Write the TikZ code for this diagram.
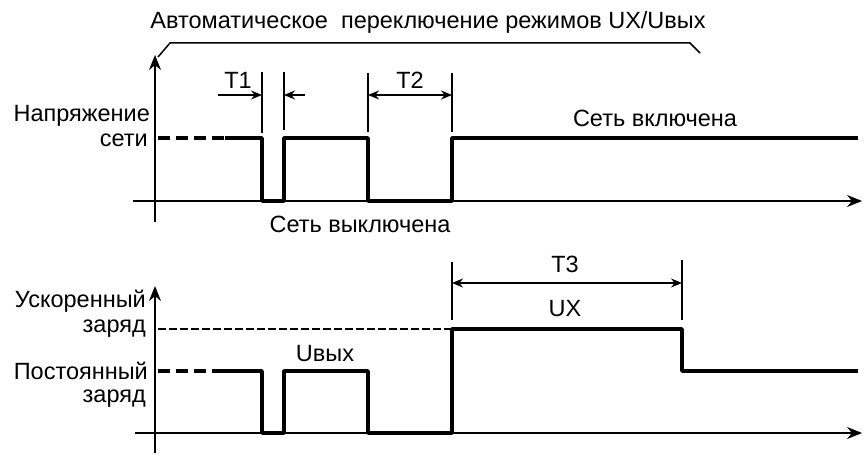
\documentclass[tikz,border=0pt]{standalone}
\usepackage{fontspec}
\setmainfont{Liberation Sans}
\usetikzlibrary{arrows.meta}
\begin{document}
\begin{tikzpicture}[x=1pt,y=-1pt,line join=round,>={Stealth[length=11pt,width=9pt]},font=\fontsize{23.5}{27}\selectfont]
\tikzset{
	axis/.style={line width=1.8pt,-{Stealth[length=15pt,width=12pt]}},
	signal/.style={line width=3.6pt},
	level/.style={line width=3.6pt,dash pattern=on 12pt off 6pt},
	guide/.style={line width=2pt,dash pattern=on 8pt off 3pt},
	tick/.style={line width=1.5pt},
	dim/.style={line width=1.5pt},
	lbl/.style={inner sep=0pt},
}
\useasboundingbox (0,0) rectangle (864,462);
% axes of the upper plot
\coordinate (ybot1) at (155,222); \coordinate (ytop1) at (155,55);
\coordinate (xl1) at (133,201); \coordinate (xr1) at (862,201);
\draw[axis] (ybot1) -- (ytop1);
\draw[axis] (xl1) -- (xr1);
% axes of the lower plot
\coordinate (ybot2) at (155,453); \coordinate (ytop2) at (155,286);
\coordinate (xl2) at (135,433); \coordinate (xr2) at (862,433);
\draw[axis] (ybot2) -- (ytop2);
\draw[axis] (xl2) -- (xr2);
% mains voltage
\draw[level] (158,138) -- (225,138);
\draw[signal] (225,138) -- (262,138) -- (262,201) -- (284,201) -- (284,138) -- (368,138)
	-- (368,201) -- (452,201) -- (452,138) -- (858,138);
% charge voltage
\draw[guide] (158,329) -- (452,329);
\draw[level] (158,371) -- (222,371);
\draw[signal] (222,371) -- (262,371) -- (262,433) -- (284,433) -- (284,371) -- (368,371)
	-- (368,433) -- (452,433) -- (452,329) -- (682,329) -- (682,371) -- (858,371);
% time marks
\coordinate (a1) at (262,72); \coordinate (a2) at (262,133);
\coordinate (b1) at (284,72); \coordinate (b2) at (284,130);
\coordinate (c1) at (368,73); \coordinate (c2) at (368,132);
\coordinate (d1) at (452,73); \coordinate (d2) at (452,132);
\coordinate (e1) at (452,262); \coordinate (e2) at (452,320);
\coordinate (f1) at (682,260); \coordinate (f2) at (682,320);
\foreach \p in {a,b,c,d,e,f}
	\draw[tick] (\p1) -- (\p2);
\coordinate (t1l) at (218,95); \coordinate (t1a) at (262,95);
\coordinate (t1b) at (284,95); \coordinate (t1r) at (305,95);
\coordinate (t2a) at (368,95); \coordinate (t2b) at (452,95);
\coordinate (t3a) at (452,283); \coordinate (t3b) at (682,283);
\draw[dim,->] (t1l) -- (t1a);
\draw[dim,->] (t1r) -- (t1b);
\draw[dim,<->] (t2a) -- (t2b);
\draw[dim,<->] (t3a) -- (t3b);
% bracket of the title
\coordinate (br1) at (158,57); \coordinate (br2) at (170,43);
\coordinate (br3) at (690,43); \coordinate (br4) at (700,53);
\draw[dim] (br1) -- (br2) -- (br3) -- (br4);
% labels
\node[lbl] (title) at (428,22) {Автоматическое\ \ переключение режимов UX/Uвых};
\node[lbl,anchor=east] (nap) at (150,116) {Напряжение};
\node[lbl,anchor=east] (seti) at (148,140) {сети};
\node[lbl] (off) at (360,224) {Сеть выключена};
\node[lbl] (on) at (655,118) {Сеть включена};
\node[lbl] (t1) at (238,80) {T1};
\node[lbl] (t2) at (410,80) {T2};
\node[lbl] (t3) at (565,264) {T3};
\node[lbl] (ux) at (565,309) {UX};
\node[lbl] (uout) at (325,354) {Uвых};
\node[lbl,anchor=east] (usk) at (146,301) {Ускоренный};
\node[lbl,anchor=east] (zar1) at (146,329) {заряд};
\node[lbl,anchor=east] (post) at (148,371) {Постоянный};
\node[lbl,anchor=east] (zar2) at (146,399) {заряд};
\end{tikzpicture}
\end{document}
